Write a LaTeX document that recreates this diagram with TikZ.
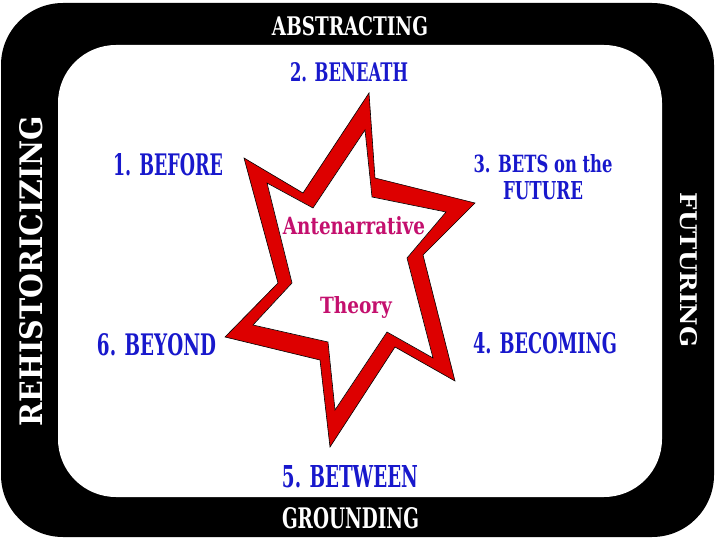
\documentclass[tikz,border=0pt]{standalone}
\usepackage{fontspec}
\usepackage{graphicx}
\setmainfont{DejaVu Serif}
\definecolor{stageblue}{RGB}{24,24,204}
\definecolor{theorypink}{RGB}{196,16,110}
\definecolor{starred}{RGB}{221,0,0}
\newcommand{\fitto}[3]{\resizebox{#1pt}{#2pt}{#3}}

\begin{document}
\begin{tikzpicture}[x=1pt,y=-1pt]
  \tikzset{every node/.style={inner sep=0pt,font=\bfseries}}
  \tikzset{frame label/.style={text=white}}
  \tikzset{stage label/.style={text=stageblue,anchor=base}}
  \tikzset{theory label/.style={text=theorypink,anchor=base}}
  \useasboundingbox (0,0) rectangle (720,540);
  % frame
  \fill[black,rounded corners=62pt] (1,3) rectangle (714,537);
  \fill[white,rounded corners=58pt] (58,45) rectangle (662,497);
  % star
  \filldraw[fill=starred,draw=black,line width=0.6pt] (369,93) -- (375,178) -- (475,203) -- (423,255) -- (455,381) -- (395,347) -- (330,447) -- (320,360) -- (225,337) -- (278,283) -- (244,158) -- (303,193) -- cycle;
  \filldraw[fill=white,draw=black,line width=0.6pt] (365,130) -- (372,197) -- (446,212) -- (407,258) -- (433,358) -- (387,332) -- (335,410) -- (328,342) -- (253,325) -- (292,283) -- (267,183) -- (313,208) -- cycle;
  % frame labels
  \node[frame label,anchor=base] (abstracting) at (350,36) {\fitto{156}{19}{ABSTRACTING}};
  \node[frame label,anchor=base] (grounding) at (350.5,528) {\fitto{137}{21}{GROUNDING}};
  \node[frame label,rotate=90] (rehistoricizing) at (31.5,271) {\fitto{310}{23}{REHISTORICIZING}};
  \node[frame label,rotate=-90] (futuring) at (688.5,270) {\fitto{154}{17}{FUTURING}};
  % stages
  \node[stage label] (before) at (168,176) {\fitto{110}{22}{1. BEFORE}};
  \node[stage label] (beneath) at (349,82) {\fitto{118}{19}{2. BENEATH}};
  \node[stage label,anchor=center,align=center,font=\bfseries\fontsize{10}{27}\selectfont] (bets) at (543,177.5) {\fitto{139}{18}{3. BETS on the}\\\fitto{80}{18}{FUTURE}};
  \node[stage label] (becoming) at (545,353) {\fitto{144}{21}{4. BECOMING}};
  \node[stage label] (between) at (350,487) {\fitto{136}{22}{5. BETWEEN}};
  \node[stage label] (beyond) at (156.5,355) {\fitto{119}{22}{6. BEYOND}};
  % centre
  \node[theory label] (antenarrative) at (354,234) {\fitto{142}{18}{Antenarrative}};
  \node[theory label] (theory) at (356,313) {\fitto{72}{17}{Theory}};
\end{tikzpicture}
\end{document}
